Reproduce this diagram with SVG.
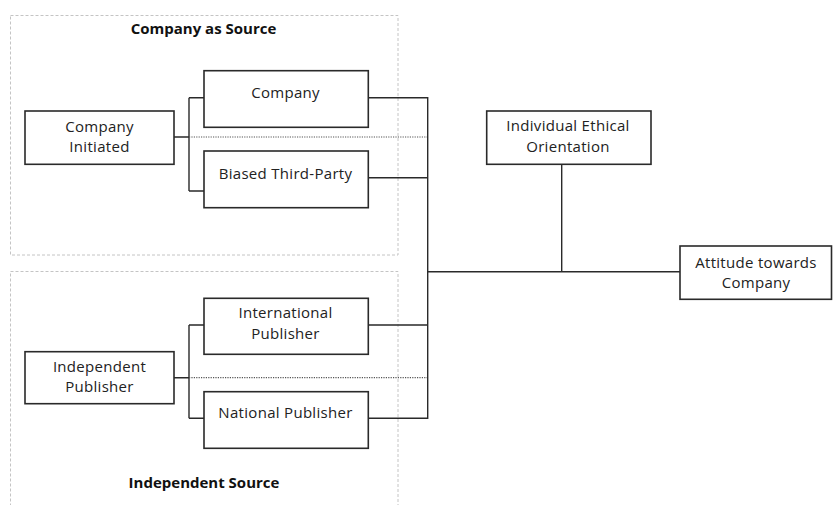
<svg xmlns="http://www.w3.org/2000/svg" width="833" height="505" viewBox="0 0 833 505">
<style>
.grp{fill:none;stroke:#c4c4c4;stroke-width:1;stroke-dasharray:3,2}
.box{fill:#fff;stroke:#2a2a2a;stroke-width:1.6}
.t{font-family:"Open Sans","DejaVu Sans",sans-serif;font-size:15px;fill:#222;text-anchor:middle;letter-spacing:0.3px}
.h{font-family:"Open Sans","DejaVu Sans",sans-serif;font-size:15px;font-weight:bold;fill:#111;text-anchor:middle}
.c{fill:none;stroke:#2a2a2a;stroke-width:1.4}
.d{fill:none;stroke:#555;stroke-width:1.2;stroke-dasharray:1.2,1.2}
</style>
<rect width="833" height="505" fill="#fff"/>
<g id="group-company-source">
<rect class="grp" x="10.5" y="15.5" width="387.5" height="239.5"/>
<text class="h" x="203.5" y="34.3">Company as Source</text>
</g>
<g id="group-independent-source">
<rect class="grp" x="10.5" y="271.5" width="387.5" height="245"/>
<text class="h" x="204" y="488.3">Independent Source</text>
</g>
<g id="connectors">
<path class="c" d="M174,137H189M189,97.7V191M189,97.7H204M189,191H204"/>
<path class="d" d="M189,137H428"/>
<path class="c" d="M174,377.7H189M189,325V418.3M189,325H204M189,418.3H204"/>
<path class="d" d="M189,377.7H428"/>
<path class="c" d="M368,97.7H427.7M368,177.7H427.7M368,325H427.7M368,418.3H427.7M427.7,97V419"/>
<path class="c" d="M427.7,271.7H680M561.7,164.3V271.7"/>
</g>
<g id="company-initiated">
<rect class="box" x="25" y="111" width="149" height="53.3"/>
<text class="t" x="99.5" y="131.5">Company</text>
<text class="t" x="99.5" y="151.7">Initiated</text>
</g>
<g id="company">
<rect class="box" x="204" y="70.7" width="164.3" height="56.6"/>
<text class="t" x="285.5" y="97.5">Company</text>
</g>
<g id="biased-third-party">
<rect class="box" x="204" y="151" width="164.3" height="56.7"/>
<text class="t" x="285.5" y="179.3">Biased Third-Party</text>
</g>
<g id="independent-publisher">
<rect class="box" x="25" y="351.7" width="149" height="52"/>
<text class="t" x="99.5" y="371.7">Independent</text>
<text class="t" x="99.5" y="392.3">Publisher</text>
</g>
<g id="international-publisher">
<rect class="box" x="204" y="298.3" width="164.3" height="56"/>
<text class="t" x="285.5" y="318.3">International</text>
<text class="t" x="285.5" y="339">Publisher</text>
</g>
<g id="national-publisher">
<rect class="box" x="204" y="391.7" width="164.3" height="56.6"/>
<text class="t" x="285.5" y="418.3">National Publisher</text>
</g>
<g id="individual-ethical-orientation">
<rect class="box" x="486.7" y="111" width="164.3" height="53.3"/>
<text class="t" x="568" y="130.7">Individual Ethical</text>
<text class="t" x="568" y="151.7">Orientation</text>
</g>
<g id="attitude-towards-company">
<rect class="box" x="680" y="246" width="151.5" height="53.3"/>
<text class="t" x="756" y="268.3">Attitude towards</text>
<text class="t" x="756" y="288.3">Company</text>
</g>
</svg>
